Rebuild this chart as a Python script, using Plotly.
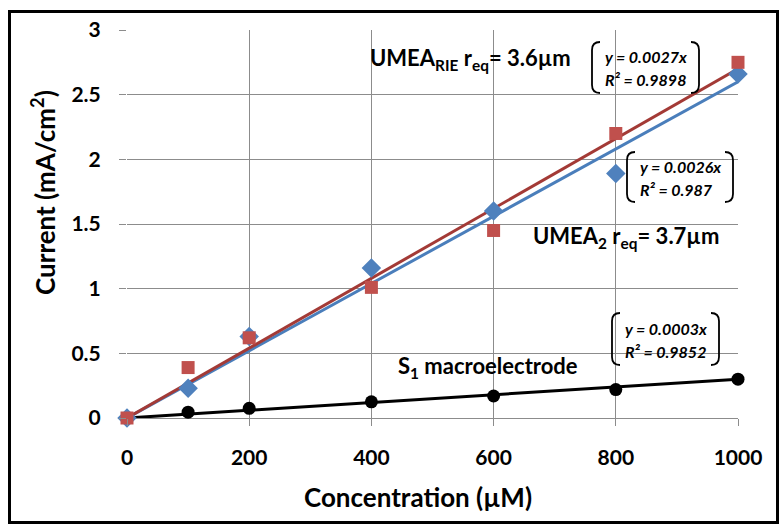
import plotly.graph_objects as go

# Concentration (µM) and current density (mA/cm²) per electrode
conc = [0, 100, 200, 400, 600, 800, 1000]
umea2 = [0, 0.23, 0.63, 1.16, 1.60, 1.89, 2.66]
umea_rie = [0, 0.39, 0.62, 1.01, 1.45, 2.20, 2.75]
macro = [0, 0.045, 0.075, 0.125, 0.17, 0.22, 0.30]

# Linear fits through the origin (slope, R²)
fit_rie = (0.0027, 0.9898)
fit_umea2 = (0.0026, 0.987)
fit_macro = (0.0003, 0.9852)

x_ticks = [0, 200, 400, 600, 800, 1000]
y_ticks = [0, 0.5, 1, 1.5, 2, 2.5, 3]

FONT = "Lato"
W, H = 780, 525
L, R, T, B = 127, 738, 30, 418


def px(x):
    return (x - L) / (R - L)


def py(y):
    return (B - y) / (B - T)


fig = go.Figure()

fit_x = [conc[0], conc[-1]]
for slope, color in [(fit_macro[0], "#000000"), (fit_umea2[0], "#4A7EBB"), (fit_rie[0], "#A33A36")]:
    fig.add_trace(go.Scatter(x=fit_x, y=[slope * v for v in fit_x], mode="lines",
                             line=dict(color=color, width=3), showlegend=False,
                             hoverinfo="skip", cliponaxis=False))

fig.add_trace(go.Scatter(x=conc, y=macro, mode="markers", cliponaxis=False,
                         marker=dict(symbol="circle", size=13, color="#000000"), showlegend=False))
fig.add_trace(go.Scatter(x=conc, y=umea2, mode="markers", cliponaxis=False,
                         marker=dict(symbol="diamond", size=15, color="#4F81BD"), showlegend=False))
fig.add_trace(go.Scatter(x=conc, y=umea_rie, mode="markers", cliponaxis=False,
                         marker=dict(symbol="square", size=13, color="#C0504D"), showlegend=False))

grid = "#8C8C8C"
tick_font = dict(family=FONT, size=21, color="#000", weight="bold")
fig.update_xaxes(range=[0, 1000], tickvals=x_ticks, ticktext=[str(v) for v in x_ticks],
                 showgrid=True, gridcolor=grid, gridwidth=1, zeroline=False,
                 ticks="outside", ticklen=7, tickcolor=grid, showline=False,
                 tickfont=tick_font, ticklabelstandoff=14)
fig.update_yaxes(range=[0, 3], tickvals=y_ticks, ticktext=[f"{v:g}" for v in y_ticks],
                 showgrid=True, gridcolor=grid, gridwidth=1, zeroline=True, zerolinecolor=grid,
                 zerolinewidth=1, ticks="outside", ticklen=7, tickcolor=grid, showline=False,
                 tickfont=tick_font, ticklabelstandoff=14)

title_font = dict(family=FONT, size=26, color="#000", weight="bold")
annotations = [
    dict(text="Concentration (µM)", x=px(418), y=py(497), xref="paper", yref="paper",
         xanchor="center", yanchor="middle", showarrow=False, font=title_font),
    dict(text="Current (mA/cm<sup>2</sup>)", x=px(44), y=py(193), xref="paper", yref="paper",
         xanchor="center", yanchor="middle", showarrow=False, textangle=-90, font=title_font),
]

labels = [
    ("UMEA<sub>RIE</sub> r<sub>eq</sub>= 3.6µm", 470, 59),
    ("UMEA<sub>2</sub> r<sub>eq</sub>= 3.7µm", 626, 237),
    ("S<sub>1</sub> macroelectrode", 488, 367),
]
for text, cx, cy in labels:
    annotations.append(dict(text=text, x=px(cx), y=py(cy), xref="paper", yref="paper",
                            xanchor="center", yanchor="middle", showarrow=False,
                            font=dict(family=FONT, size=22, color="#000", weight="bold")))

# Fit equations with bracket outlines (left, right, top, bottom in pixels)
boxes = [
    (fit_rie, 592, 699, 42, 93),
    (fit_umea2, 627, 733, 152, 202),
    (fit_macro, 612, 719, 313, 365),
]
eq_font = dict(family=FONT, size=16, color="#000", weight="bold", style="italic")
shapes = []
for (slope, r2), x0, x1, y0, y1 in boxes:
    xl = px(x0 + 11)
    ym = (y0 + y1) / 2
    annotations.append(dict(text=f"y = {slope:g}x", x=xl, y=py(ym - 11), xref="paper",
                            yref="paper", xanchor="left", yanchor="middle", showarrow=False,
                            font=eq_font))
    annotations.append(dict(text=f"R² = {r2:g}", x=xl, y=py(ym + 12), xref="paper",
                            yref="paper", xanchor="left", yanchor="middle", showarrow=False,
                            font=eq_font))
    c = 8
    left = (f"M {px(x0 + c)},{py(y0)} Q {px(x0)},{py(y0)} {px(x0)},{py(y0 + c)} "
            f"L {px(x0)},{py(y1 - c)} Q {px(x0)},{py(y1)} {px(x0 + c)},{py(y1)}")
    right = (f"M {px(x1 - c)},{py(y0)} Q {px(x1)},{py(y0)} {px(x1)},{py(y0 + c)} "
             f"L {px(x1)},{py(y1 - c)} Q {px(x1)},{py(y1)} {px(x1 - c)},{py(y1)}")
    for p in (left, right):
        shapes.append(dict(type="path", path=p, xref="paper", yref="paper",
                           line=dict(color="#000", width=1.8)))

# Outer frame around the whole chart
shapes.append(dict(type="rect", xref="paper", yref="paper",
                   x0=px(9.5), x1=px(777.5), y0=py(522.5), y1=py(11.5),
                   line=dict(color="#000", width=3)))

fig.update_layout(width=W, height=H, margin=dict(l=L, r=W - R, t=T, b=H - B),
                  paper_bgcolor="white", plot_bgcolor="white",
                  annotations=annotations, shapes=shapes)

fig.write_html("out.html")
